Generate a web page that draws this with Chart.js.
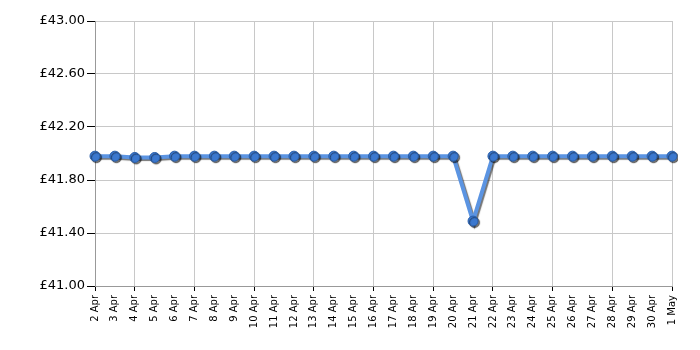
<!DOCTYPE html>
<html>
<head>
<meta charset="utf-8">
<script src="https://cdn.jsdelivr.net/npm/chart.js@4"></script>
<style>
  body { margin: 0; background: #fff; }
  #wrap { width: 700px; height: 350px; }
</style>
</head>
<body>
<div id="wrap"><canvas id="myChart"></canvas></div>
<script>
var days = ['2 Apr', '3 Apr', '4 Apr', '5 Apr', '6 Apr', '7 Apr', '8 Apr', '9 Apr', '10 Apr', '11 Apr',
    '12 Apr', '13 Apr', '14 Apr', '15 Apr', '16 Apr', '17 Apr', '18 Apr', '19 Apr', '20 Apr', '21 Apr',
    '22 Apr', '23 Apr', '24 Apr', '25 Apr', '26 Apr', '27 Apr', '28 Apr', '29 Apr', '30 Apr', '1 May'];
var prices = [41.98, 41.98, 41.97, 41.97, 41.98, 41.98, 41.98, 41.98, 41.98, 41.98,
    41.98, 41.98, 41.98, 41.98, 41.98, 41.98, 41.98, 41.98, 41.98, 41.49,
    41.98, 41.98, 41.98, 41.98, 41.98, 41.98, 41.98, 41.98, 41.98, 41.98];
// vertical grid lines only on these labels
var gridDays = [0, 2, 5, 8, 11, 14, 17, 20, 23, 26, 29];
var yMin = 41, yMax = 43, yStep = 0.4;

// drop shadow under line and points
var shadow = {
    id: 'shadow',
    beforeDatasetsDraw: function(chart) {
        var ctx = chart.ctx;
        ctx.save();
        ctx.shadowColor = 'rgba(0,0,0,0.55)';
        ctx.shadowOffsetX = 1.5;
        ctx.shadowOffsetY = 1.5;
        ctx.shadowBlur = 1;
    },
    afterDatasetsDraw: function(chart) {
        chart.ctx.restore();
    }
};

var ctx = document.getElementById('myChart').getContext('2d');
var chart = new Chart(ctx, {
    type: 'line',
    data: {
        labels: days,
        datasets: [{
            data: prices,
            borderColor: '#5b94e2',
            borderWidth: 4,
            backgroundColor: '#3a76cc',
            pointBackgroundColor: '#3b78cf',
            pointBorderColor: '#2a5ea8',
            pointBorderWidth: 1,
            pointRadius: 5,
            tension: 0,
            fill: false
        }]
    },
    options: {
        responsive: true,
        maintainAspectRatio: false,
        animation: false,
        layout: { padding: { left: 0, right: 28, top: 21, bottom: 0 } },
        plugins: { legend: { display: false }, tooltip: { enabled: false } },
        scales: {
            x: {
                offset: false,
                afterFit: function(s) { s.height = 64; },
                border: { color: '#999', width: 1 },
                grid: {
                    color: function(c) { return gridDays.indexOf(c.index) >= 0 ? '#c8c8c8' : 'rgba(0,0,0,0)'; },
                    tickColor: function(c) { return gridDays.indexOf(c.index) >= 0 ? '#000' : 'rgba(0,0,0,0)'; },
                    tickLength: 5
                },
                ticks: {
                    autoSkip: false,
                    minRotation: 90,
                    maxRotation: 90,
                    padding: 4,
                    color: '#000',
                    font: { family: 'DejaVu Sans', size: 10 }
                }
            },
            y: {
                min: yMin,
                max: yMax,
                afterFit: function(s) { s.width = 95; },
                border: { color: '#999', width: 1 },
                grid: { color: '#c8c8c8', tickColor: '#000', tickLength: 8 },
                ticks: {
                    stepSize: yStep,
                    padding: 2,
                    color: '#000',
                    font: { family: 'DejaVu Sans', size: 13 },
                    callback: function(v) { return '£' + v.toFixed(2); }
                }
            }
        }
    },
    plugins: [shadow]
});
</script>
</body>
</html>
